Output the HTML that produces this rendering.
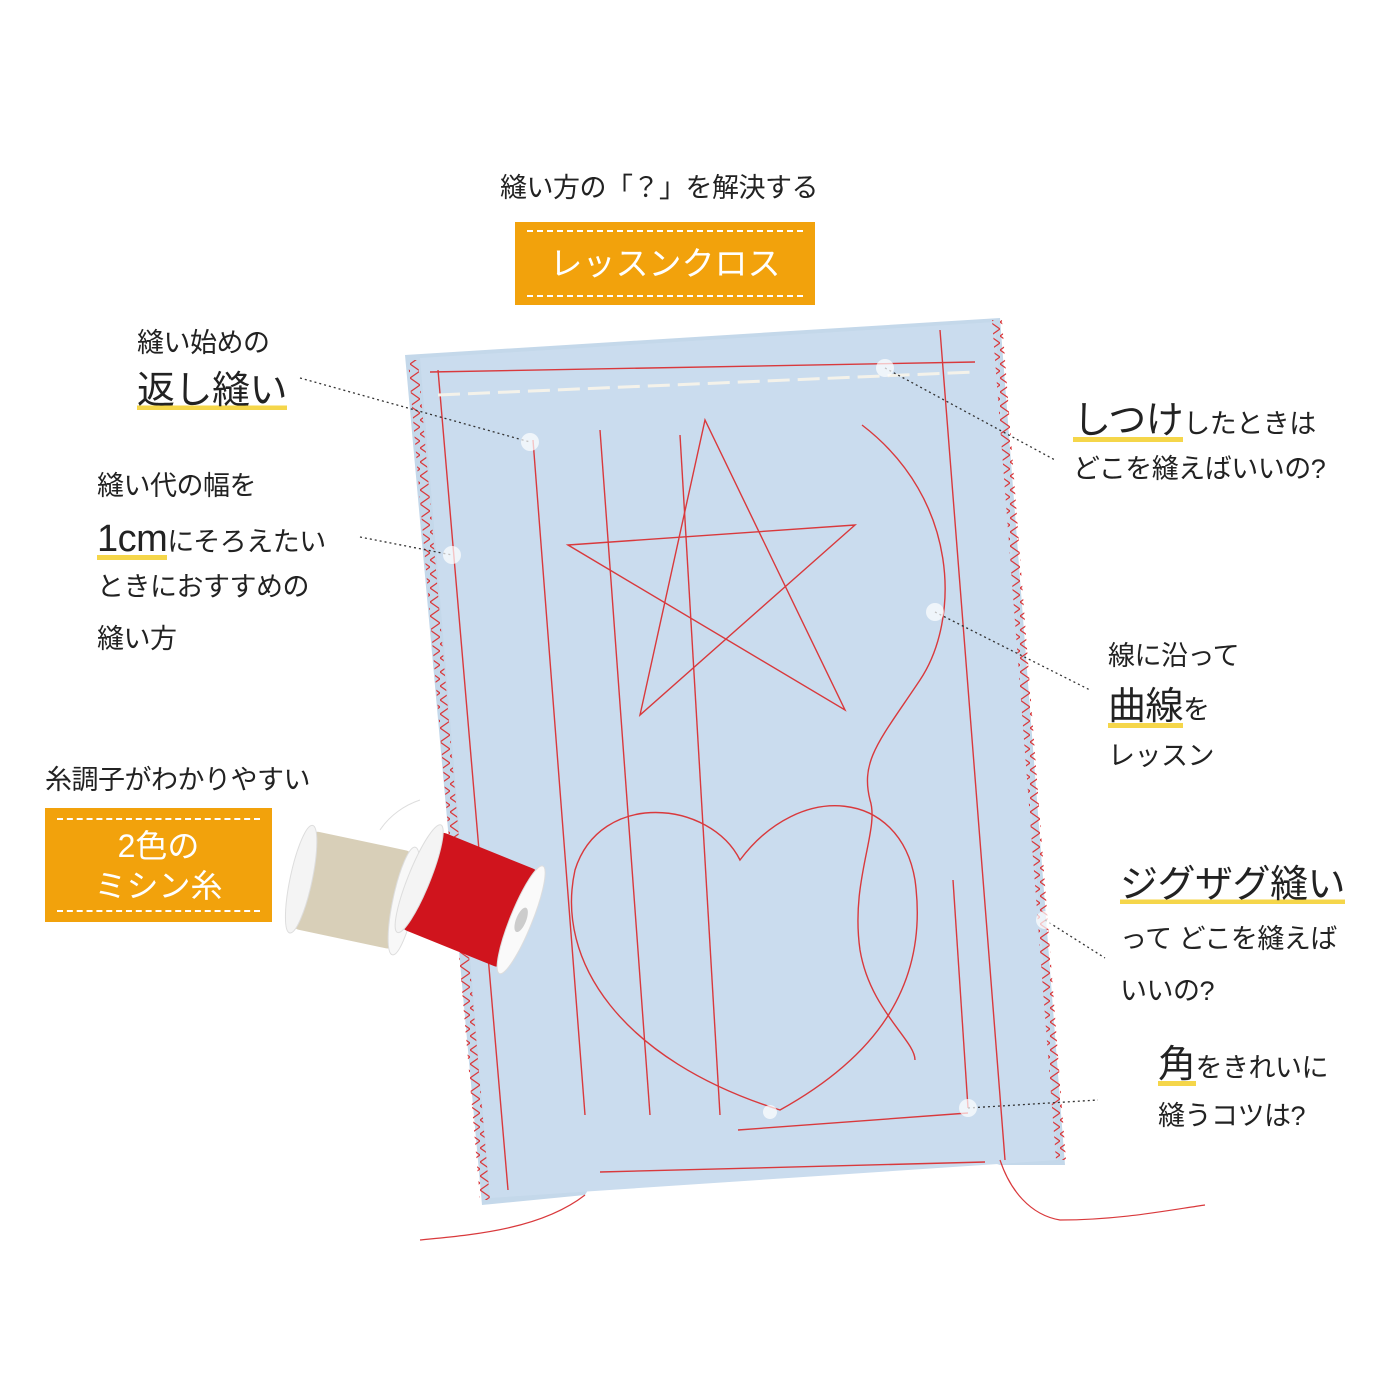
<!DOCTYPE html>
<html><head><meta charset="utf-8">
<style>
html,body{margin:0;padding:0;background:#fff;}
#c{position:relative;width:1400px;height:1400px;overflow:hidden;font-family:"Liberation Sans","Noto Sans CJK JP",sans-serif;color:#222;}
.t{position:absolute;white-space:nowrap;line-height:1;letter-spacing:-0.5px;}
.s{font-size:27px;}
.b{font-size:38px;}
.u{background:linear-gradient(transparent 88%,#f5d64a 88%);}
.box{position:absolute;background:#f2a20c;color:#fff;text-align:center;}
.dl{position:absolute;left:12px;right:12px;border-top:2px dashed #fff;}
</style></head><body><div id="c">
<svg width="1400" height="1400" style="position:absolute;left:0;top:0">
<defs>
<pattern id="zz" width="10" height="14" patternUnits="userSpaceOnUse"><path d="M0 0 L10 7 L0 14" stroke="#d9393c" fill="none" stroke-width="1.3"/></pattern>
</defs>
<path d="M405 355 L1000 318 L1065 1165 L1000 1165 L985 1160 L600 1170 L585 1195 L482 1205 Z" fill="#c4d8ea"/>
<path d="M420 358 L995 322 L1058 1160 L490 1198 Z" fill="#cadcee"/>
<path d="M408 360 L418 360 L490 1200 L480 1200 Z" fill="url(#zz)"/>
<path d="M992 320 L1002 320 L1066 1160 L1056 1160 Z" fill="url(#zz)"/>
<g stroke="#d9393c" fill="none" stroke-width="1.4">
<line x1="438" y1="370" x2="508" y2="1190"/>
<line x1="940" y1="330" x2="1005" y2="1160"/>
<path d="M430 372 L975 362"/>
<path d="M600 1172 L985 1162"/>
<line x1="533" y1="440" x2="585" y2="1115"/>
<line x1="600" y1="430" x2="650" y2="1115"/>
<line x1="680" y1="435" x2="720" y2="1115"/>
<line x1="953" y1="880" x2="968" y2="1108"/>
<line x1="738" y1="1130" x2="968" y2="1113"/>
<path d="M568 545 L855 525 L640 715 L705 420 L845 710 Z"/>
<path d="M740 860 C710 800 600 790 575 870 C555 960 620 1060 780 1110 C870 1060 930 990 915 880 C900 790 800 780 740 860 Z"/>
<path d="M862 425 C960 500 960 620 920 680 C880 740 860 760 870 800 C880 830 850 880 860 950 C870 1010 915 1040 915 1060"/>
</g>
<path d="M438 395 L975 372" stroke="#f4f2ea" stroke-width="3" stroke-dasharray="22 8" fill="none"/>
<g stroke="#d9393c" fill="none" stroke-width="1.2">
<path d="M585 1195 C540 1230 470 1235 420 1240"/>
<path d="M1000 1160 C1010 1190 1030 1215 1060 1220 C1120 1220 1170 1210 1205 1205"/>
</g>
<g stroke="#333" stroke-width="1.3" stroke-dasharray="2 3" fill="none">
<line x1="300" y1="378" x2="530" y2="442"/>
<line x1="360" y1="537" x2="452" y2="555"/>
<line x1="885" y1="368" x2="1055" y2="460"/>
<line x1="935" y1="612" x2="1090" y2="690"/>
<line x1="1045" y1="920" x2="1105" y2="958"/>
<line x1="968" y1="1108" x2="1098" y2="1100"/>
</g>
<g fill="#fff" opacity=".7">
<circle cx="530" cy="442" r="9"/><circle cx="452" cy="555" r="9"/><circle cx="885" cy="368" r="9"/>
<circle cx="935" cy="612" r="9"/><circle cx="1045" cy="920" r="9"/><circle cx="968" cy="1108" r="9"/><circle cx="770" cy="1112" r="7"/>
</g>
<g transform="rotate(12 352 890)">
<rect x="300" y="840" width="105" height="100" rx="8" fill="#d8cfb8"/>
<ellipse cx="300" cy="890" rx="11" ry="55" fill="#f4f4f4" stroke="#ddd"/>
<ellipse cx="405" cy="890" rx="11" ry="55" fill="#f8f8f8" stroke="#ddd"/>
</g>
<g transform="rotate(22 472 900)">
<rect x="415" y="848" width="110" height="105" rx="8" fill="#d0141d"/>
<ellipse cx="415" cy="900" rx="11" ry="58" fill="#f4f4f4" stroke="#ddd"/>
<ellipse cx="525" cy="900" rx="11" ry="58" fill="#fafafa" stroke="#ddd"/>
<ellipse cx="525" cy="900" rx="5" ry="13" fill="#ccc"/>
</g>
<path d="M380 830 C390 815 405 805 420 800" stroke="#ddd" fill="none"/>
</svg>

<div class="t s" style="left:500px;top:175px;">縫い方の「？」を解決する</div>
<div class="box" style="left:515px;top:222px;width:300px;height:83px;font-size:33px;line-height:83px;">
<div class="dl" style="top:8px"></div>レッスンクロス<div class="dl" style="bottom:8px"></div></div>

<div class="t s" style="left:137px;top:330px;">縫い始めの</div>
<div class="t b u" style="left:137px;top:372px;">返し縫い</div>

<div class="t s" style="left:97px;top:473px;">縫い代の幅を</div>
<div class="t s" style="left:97px;top:520px;"><span class="u" style="font-size:38px;">1cm</span>にそろえたい</div>
<div class="t s" style="left:97px;top:574px;">ときにおすすめの</div>
<div class="t s" style="left:97px;top:626px;">縫い方</div>

<div class="t s" style="left:45px;top:767px;">糸調子がわかりやすい</div>
<div class="box" style="left:45px;top:808px;width:227px;height:114px;font-size:32px;line-height:40px;padding-top:18px;box-sizing:border-box;">
<div class="dl" style="top:10px"></div>2色の<br>ミシン糸<div class="dl" style="bottom:10px"></div></div>

<div class="t s" style="left:1073px;top:402px;"><span class="u" style="font-size:38px;">しつけ</span>したときは</div>
<div class="t s" style="left:1073px;top:456px;">どこを縫えばいいの?</div>

<div class="t s" style="left:1108px;top:643px;">線に沿って</div>
<div class="t s" style="left:1108px;top:688px;"><span class="u" style="font-size:38px;">曲線</span>を</div>
<div class="t s" style="left:1108px;top:743px;">レッスン</div>

<div class="t b u" style="left:1120px;top:866px;">ジグザグ縫い</div>
<div class="t s" style="left:1120px;top:926px;">って どこを縫えば</div>
<div class="t s" style="left:1120px;top:978px;">いいの?</div>

<div class="t s" style="left:1158px;top:1046px;"><span class="u" style="font-size:38px;">角</span>をきれいに</div>
<div class="t s" style="left:1158px;top:1103px;">縫うコツは?</div>
</div></body></html>
